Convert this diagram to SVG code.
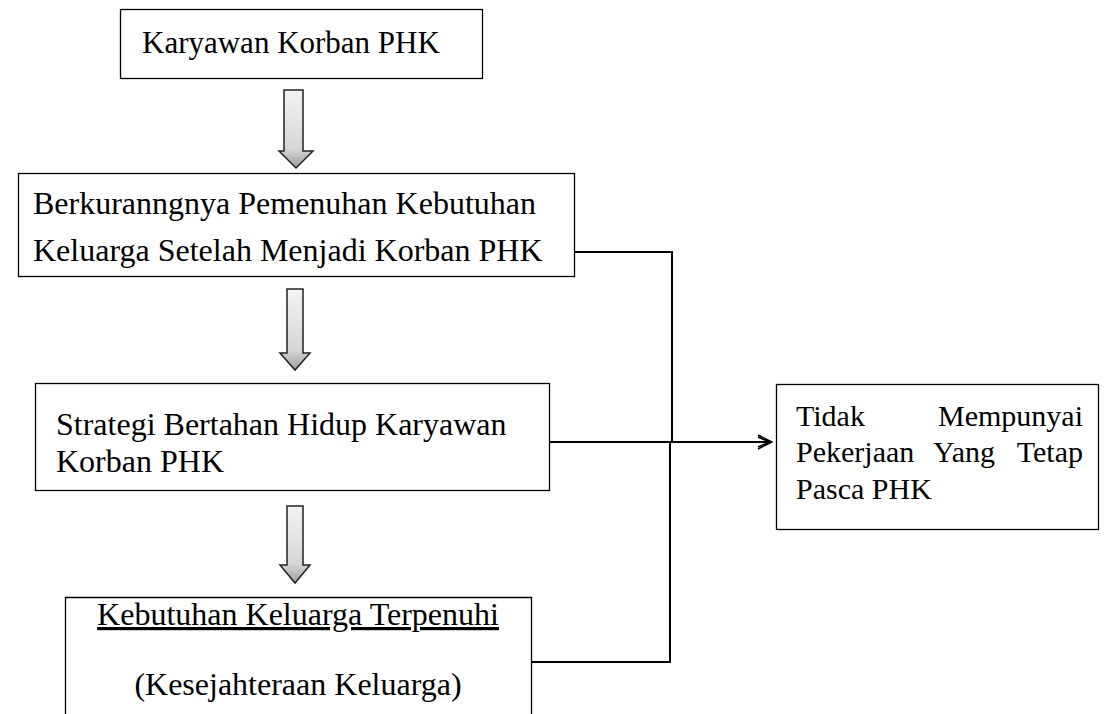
<svg xmlns="http://www.w3.org/2000/svg" width="1110" height="714" viewBox="0 0 1110 714">
<defs>
<linearGradient id="g" x1="0" y1="0" x2="0" y2="1">
<stop offset="0" stop-color="#f4f4f4"/>
<stop offset="0.75" stop-color="#d6d6d6"/>
<stop offset="1" stop-color="#9e9e9e"/>
</linearGradient>
<marker id="open" markerWidth="18" markerHeight="16" refX="15" refY="8" orient="auto" markerUnits="userSpaceOnUse">
<path d="M1,1 L15,8 L1,15 M1,3 L12,8 L1,13" fill="none" stroke="#000" stroke-width="1.4"/>
</marker>
</defs>
<style>
.box{fill:#fff;stroke:#000;stroke-width:1.3}
.t{font-family:"Liberation Serif","Times New Roman",serif;font-size:32px;fill:#000}
.s{font-size:30px}
.m{font-size:31px}
.blk{fill:url(#g);stroke:#222;stroke-width:1.5}
.c{fill:none;stroke:#000;stroke-width:2}
</style>
<rect width="1110" height="714" fill="#fff"/>

<g id="n1">
<rect class="box" x="120.5" y="9.5" width="362" height="69"/>
<text class="t m" x="142" y="53">Karyawan Korban PHK</text>
</g>

<g id="a1">
<path class="blk" d="M284,90 H303 V151 H313 L296,168 L279,151 H284 Z"/>
</g>

<g id="n2">
<rect class="box" x="18.5" y="173.5" width="556" height="103"/>
<text class="t" x="33" y="214">Berkuranngnya Pemenuhan Kebutuhan</text>
<text class="t" x="33" y="261">Keluarga Setelah Menjadi Korban PHK</text>
</g>

<g id="a2">
<path class="blk" d="M287,289 H303 V353 H310 L295,370 L280,353 H287 Z"/>
</g>

<g id="n3">
<rect class="box" x="35.5" y="383.5" width="514" height="107"/>
<text class="t" x="56" y="435">Strategi Bertahan Hidup Karyawan</text>
<text class="t" x="56" y="472">Korban PHK</text>
</g>

<g id="a3">
<path class="blk" d="M287,506 H303 V565 H310 L295,583 L280,565 H287 Z"/>
</g>

<g id="n4">
<path class="box" d="M65.5,720 V597.5 H531.5 V720"/>
<text class="t" x="298" y="625" text-anchor="middle" text-decoration="underline">Kebutuhan Keluarga Terpenuhi</text>
<text class="t" x="298" y="695" text-anchor="middle">(Kesejahteraan Keluarga)</text>
</g>

<g id="n5">
<rect class="box" x="776.5" y="384.5" width="322" height="145"/>
<text class="t s" x="796" y="426">Tidak</text>
<text class="t s" x="1083" y="426" text-anchor="end">Mempunyai</text>
<text class="t s" x="796" y="462">Pekerjaan</text>
<text class="t s" x="964" y="462" text-anchor="middle">Yang</text>
<text class="t s" x="1083" y="462" text-anchor="end">Tetap</text>
<text class="t s" x="796" y="499">Pasca PHK</text>
</g>

<g id="connectors">
<polyline class="c" points="575,252 672,252 672,442"/>
<polyline class="c" points="531,662 670,662 670,442"/>
<line class="c" x1="550" y1="442" x2="772" y2="442" marker-end="url(#open)"/>
</g>
</svg>
